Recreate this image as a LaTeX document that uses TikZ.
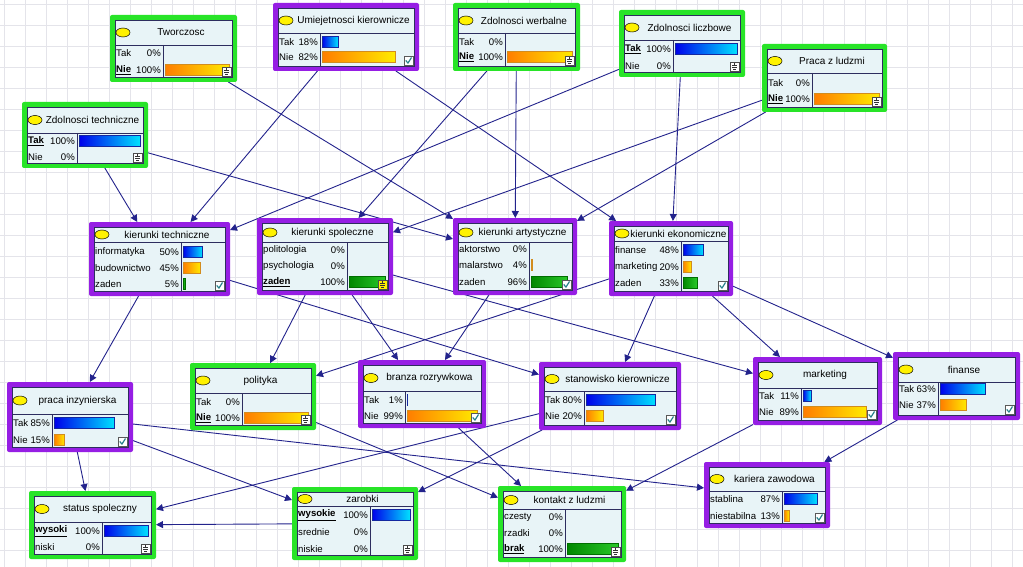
\documentclass[tikz,border=0pt]{standalone}
\usepackage{fontspec}
\setmainfont{Liberation Sans}
\usetikzlibrary{arrows.meta}
\pgfdeclarelayer{bg}
\pgfdeclarelayer{edges}
\pgfsetlayers{bg,edges,main}

\definecolor{frgreen}{RGB}{40,228,40}
\definecolor{frpurple}{RGB}{150,30,228}
\definecolor{boxfill}{RGB}{232,244,247}
\definecolor{boxline}{RGB}{45,45,95}
\definecolor{edgecol}{RGB}{35,35,140}
\definecolor{gridc}{RGB}{228,228,234}
\definecolor{blueL}{RGB}{0,0,235}
\definecolor{blueR}{RGB}{0,225,255}
\definecolor{blueD}{RGB}{20,40,160}
\definecolor{orL}{RGB}{255,125,0}
\definecolor{orR}{RGB}{255,235,0}
\definecolor{orD}{RGB}{210,140,30}
\definecolor{grL}{RGB}{0,135,0}
\definecolor{grR}{RGB}{40,200,40}
\definecolor{grD}{RGB}{0,110,0}
\definecolor{checkc}{RGB}{40,130,140}

\tikzset{
  lbl/.style={inner sep=0.5pt, font=\fontsize{10}{11}\selectfont, text=black},
  rowlbl/.style={inner sep=0.5pt, font=\fontsize{9.6}{11}\selectfont, text=black},
  bnedge/.style={draw=edgecol, line width=0.9pt, -{Triangle[length=7pt,width=7pt]}},
  barblue/.style={left color=blueL, right color=blueR, draw=blueD},
  barorange/.style={left color=orL, right color=orR, draw=orD},
  bargreen/.style={left color=grL, right color=grR, draw=grD},
}

\newcommand{\bnb}[1]{\underline{\textbf{#1}}}

% #1 name #2 x1 #3 y1 #4 x2 #5 y2 #6 frame colour #7 divider y #8 column x #9 title
\newcommand{\bnnode}[9]{%
  \gdef\bnL{#2}\gdef\bnT{#3}\gdef\bnR{#4}\gdef\bnB{#5}\gdef\bnC{#8}%
  \node[inner sep=0pt, outer sep=0pt, minimum width={(#4-#2)*1pt}, minimum height={(#5-#3)*1pt}, anchor=north west] (#1) at (#2,#3) {};
  \fill[#6, rounded corners=2pt] (#2,#3) rectangle (#4,#5);
  \filldraw[fill=boxfill, draw=boxline, line width=0.8pt] ({#2+5},{#3+5}) rectangle ({#4-5},{#5-5});
  \draw[boxline, line width=0.8pt] ({#2+5},#7) -- ({#4-5},#7) (#8,#7) -- (#8,{#5-5});
  \filldraw[fill=yellow, draw=black, line width=0.5pt] ({#2+13},{(#3+5+#7)/2}) ellipse (7 and 4.5);
  \node[lbl] at ({(#2+20+#4-5)/2},{(#3+5+#7)/2}) {#9};
}

% #1 y #2 state #3 percent #4 fraction #5 bar style
\newcommand{\bnrow}[5]{%
  \node[rowlbl, anchor=west] at ({\bnL+5.5},#1) {#2};
  \node[rowlbl, anchor=east] at ({\bnC-1.5},#1) {#3};
  \ifdim#4pt>0pt
    \shadedraw[#5, line width=0.5pt] ({\bnC+2},{#1-5.5}) rectangle ({\bnC+2+#4*(\bnR-\bnC-10)},{#1+5.5});
  \fi
}

\newcommand{\bncheck}{%
  \filldraw[fill=white, draw=gray!70!black, line width=0.5pt] ({\bnR-15},{\bnB-15}) rectangle ({\bnR-6},{\bnB-6});
  \draw[checkc, line width=1.2pt] ({\bnR-13.3},{\bnB-10.5}) -- ({\bnR-11},{\bnB-8}) -- ({\bnR-7.5},{\bnB-13.5});
}

\newcommand{\bnev}[1]{%
  \filldraw[fill=#1, draw=gray!60!black, line width=0.5pt] ({\bnR-15},{\bnB-15}) rectangle ({\bnR-6},{\bnB-6});
  \draw[black!80, line width=0.5pt] ({\bnR-13},{\bnB-12}) -- ({\bnR-8},{\bnB-12})
    ({\bnR-10.5},{\bnB-14}) -- ({\bnR-10.5},{\bnB-12})
    ({\bnR-13},{\bnB-10}) -- ({\bnR-8},{\bnB-10})
    ({\bnR-12},{\bnB-8}) -- ({\bnR-9},{\bnB-8});
}

\begin{document}
\begin{tikzpicture}[x=1pt, y=-1pt]
\useasboundingbox (0,0) rectangle (1023,567);

\begin{pgfonlayer}{bg}
  \fill[white] (0,0) rectangle (1023,567);
  \foreach \gx in {4,25,...,1023} \draw[gridc, line width=0.5pt] (\gx,0) -- (\gx,567);
  \foreach \gy in {4,25,...,567} \draw[gridc, line width=0.5pt] (0,\gy) -- (1023,\gy);
\end{pgfonlayer}

% ---- nodes ----
\bnnode{tw}{110}{15}{237}{82}{frgreen}{45}{163}{Tworczosc}
\bnrow{53.5}{Tak}{0\%}{0}{barblue}
\bnrow{70}{\bnb{Nie}}{100\%}{1}{barorange}
\bnev{white}

\bnnode{zt}{22}{102}{148}{168}{frgreen}{133}{77}{Zdolnosci techniczne}
\bnrow{141}{\bnb{Tak}}{100\%}{1}{barblue}
\bnrow{157}{Nie}{0\%}{0}{barorange}
\bnev{white}

\bnnode{um}{273}{3}{419}{71}{frpurple}{33}{320}{Umiejetnosci kierownicze}
\bnrow{42}{Tak}{18\%}{.18}{barblue}
\bnrow{57}{Nie}{82\%}{.82}{barorange}
\bncheck

\bnnode{zw}{453}{3}{580}{71}{frgreen}{33}{505}{Zdolnosci werbalne}
\bnrow{42}{Tak}{0\%}{0}{barblue}
\bnrow{57}{\bnb{Nie}}{100\%}{1}{barorange}
\bnev{white}

\bnnode{zl}{619}{10}{745}{77}{frgreen}{40}{673}{Zdolnosci liczbowe}
\bnrow{49}{\bnb{Tak}}{100\%}{1}{barblue}
\bnrow{66}{Nie}{0\%}{0}{barorange}
\bnev{white}

\bnnode{pz}{762}{44}{887}{112}{frgreen}{73}{812}{Praca z ludzmi}
\bnrow{83}{Tak}{0\%}{0}{barblue}
\bnrow{99}{\bnb{Nie}}{100\%}{1}{barorange}
\bnev{white}

\bnnode{kt}{89}{222}{230}{296}{frpurple}{242}{181}{kierunki techniczne}
\bnrow{252}{informatyka}{50\%}{.5}{barblue}
\bnrow{268}{budownictwo}{45\%}{.45}{barorange}
\bnrow{284}{zaden}{5\%}{.05}{bargreen}
\bncheck

\bnnode{ks}{257}{218}{393}{295}{frpurple}{242}{347}{kierunki spoleczne}
\bnrow{250}{politologia}{0\%}{0}{barblue}
\bnrow{266}{psychologia}{0\%}{0}{barorange}
\bnrow{282}{\bnb{zaden}}{100\%}{1}{bargreen}
\bnev{yellow}

\bnnode{ka}{453}{218}{577}{295}{frpurple}{242}{529}{kierunki artystyczne}
\bnrow{249}{aktorstwo}{0\%}{0}{barblue}
\bnrow{265}{malarstwo}{4\%}{.04}{barorange}
\bnrow{282}{zaden}{96\%}{.96}{bargreen}
\bncheck

\bnnode{ke}{609}{221}{733}{296}{frpurple}{241}{681}{kierunki ekonomiczne}
\bnrow{250}{finanse}{48\%}{.48}{barblue}
\bnrow{267}{marketing}{20\%}{.2}{barorange}
\bnrow{283}{zaden}{33\%}{.33}{bargreen}
\bncheck

\bnnode{pi}{7}{382}{133}{452}{frpurple}{414}{52}{praca inzynierska}
\bnrow{423}{Tak}{85\%}{.85}{barblue}
\bnrow{440}{Nie}{15\%}{.15}{barorange}
\bncheck

\bnnode{po}{190}{363}{316}{430}{frgreen}{393}{242}{polityka}
\bnrow{402}{Tak}{0\%}{0}{barblue}
\bnrow{418}{\bnb{Nie}}{100\%}{1}{barorange}
\bnev{white}

\bnnode{br}{358}{360}{486}{428}{frpurple}{391}{405}{branza rozrywkowa}
\bnrow{400}{Tak}{1\%}{.01}{barblue}
\bnrow{416}{Nie}{99\%}{.99}{barorange}
\bncheck

\bnnode{sk}{539}{362}{681}{430}{frpurple}{391}{584}{stanowisko kierownicze}
\bnrow{400}{Tak}{80\%}{.8}{barblue}
\bnrow{416}{Nie}{20\%}{.2}{barorange}
\bncheck

\bnnode{mk}{753}{357}{882}{425}{frpurple}{388}{801}{marketing}
\bnrow{396}{Tak}{11\%}{.11}{barblue}
\bnrow{412}{Nie}{89\%}{.89}{barorange}
\bncheck

\bnnode{fi}{893}{352}{1020}{420}{frpurple}{382}{938}{finanse}
\bnrow{389}{Tak}{63\%}{.63}{barblue}
\bnrow{405}{Nie}{37\%}{.37}{barorange}
\bncheck

\bnnode{ss}{29}{491}{156}{559}{frgreen}{522}{102}{status spoleczny}
\bnrow{531}{\bnb{wysoki}}{100\%}{1}{barblue}
\bnrow{547}{niski}{0\%}{0}{barorange}
\bnev{white}

\bnnode{za}{292}{487}{418}{560}{frgreen}{506}{370}{zarobki}
\bnrow{515}{\bnb{wysokie}}{100\%}{1}{barblue}
\bnrow{532}{srednie}{0\%}{0}{barorange}
\bnrow{549}{niskie}{0\%}{0}{bargreen}
\bnev{white}

\bnnode{kl}{498}{486}{626}{562}{frgreen}{509}{565}{kontakt z ludzmi}
\bnrow{517}{czesty}{0\%}{0}{barblue}
\bnrow{533}{rzadki}{0\%}{0}{barorange}
\bnrow{549}{\bnb{brak}}{100\%}{1}{bargreen}
\bnev{white}

\bnnode{kz}{704}{462}{830}{528}{frpurple}{491}{782}{kariera zawodowa}
\bnrow{499}{stablina}{87\%}{.87}{barblue}
\bnrow{516}{niestabilna}{13\%}{.13}{barorange}
\bncheck

% ---- connectors ----
\begin{pgfonlayer}{edges}
  \draw[bnedge] (tw) -- (ka);
  \draw[bnedge] (zt) -- (kt);
  \draw[bnedge] (zt) -- (ka);
  \draw[bnedge] (um) -- (kt);
  \draw[bnedge] (um) -- (ke);
  \draw[bnedge] (zw) -- (ks);
  \draw[bnedge] (zw) -- (ka);
  \draw[bnedge] (zl) -- (kt);
  \draw[bnedge] (zl) -- (ke);
  \draw[bnedge] (pz) -- (ks);
  \draw[bnedge] (pz) -- (ka);
  \draw[bnedge] (kt) -- (pi);
  \draw[bnedge] (kt) -- (sk);
  \draw[bnedge] (ks) -- (po);
  \draw[bnedge] (ks) -- (br);
  \draw[bnedge] (ks) -- (mk);
  \draw[bnedge] (ka) -- (br);
  \draw[bnedge] (ke) -- (po);
  \draw[bnedge] (ke) -- (sk);
  \draw[bnedge] (ke) -- (mk);
  \draw[bnedge] (ke) -- (fi);
  \draw[bnedge] (pi) -- (ss);
  \draw[bnedge] (pi) -- (za);
  \draw[bnedge] (pi) -- (kz);
  \draw[bnedge] (po) -- (kl);
  \draw[bnedge] (br) -- (kl);
  \draw[bnedge] (sk) -- (ss);
  \draw[bnedge] (sk) -- (za);
  \draw[bnedge] (za) -- (ss);
  \draw[bnedge] (mk) -- (kl);
  \draw[bnedge] (fi) -- (kz);
\end{pgfonlayer}
\end{tikzpicture}
\end{document}
